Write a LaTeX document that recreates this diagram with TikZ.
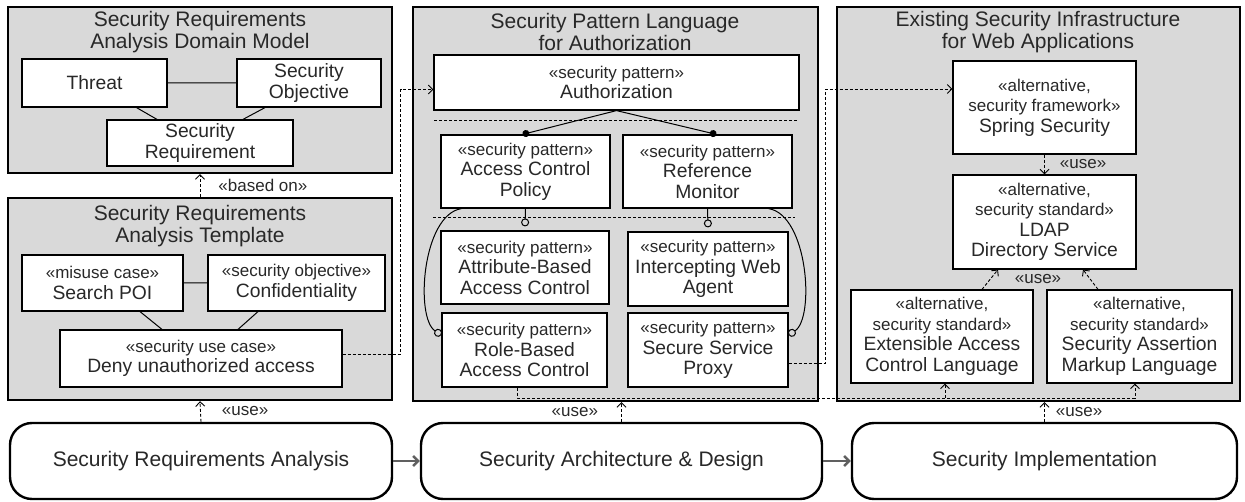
\documentclass[tikz,border=0pt]{standalone}
\usepackage{fontspec}
\setmainfont{Liberation Sans}
\usetikzlibrary{arrows.meta}
\definecolor{panelgray}{RGB}{217,217,217}
\definecolor{txt}{RGB}{40,40,40}
\newcommand{\st}{\fontsize{17}{20.5}\selectfont}
\tikzstyle{panel}=[draw=black,fill=panelgray,line width=2.4pt,inner sep=0pt]
\tikzstyle{title}=[align=center,text=txt,inner sep=0pt,font=\fontsize{21}{22.5}\selectfont]
\tikzstyle{box}=[draw=black,fill=white,line width=1.2pt,align=center,inner sep=0pt,text=txt,font=\fontsize{19.3}{20.5}\selectfont]
\tikzstyle{phase}=[draw=black,fill=white,rounded corners=22pt,line width=2.4pt,inner sep=0pt,text=txt,font=\fontsize{21}{24}\selectfont]
\tikzstyle{lbl}=[inner sep=1pt,text=txt,font=\st]
\tikzstyle{assoc}=[line width=1pt]
\tikzstyle{sep}=[line width=0.9pt,dash pattern=on 3pt off 2pt]
\tikzstyle{dep}=[line width=0.9pt,dash pattern=on 3pt off 2pt,-{Straight Barb[length=4.5pt,width=9pt]}]
\tikzstyle{flow}=[line width=2.5pt,draw=gray!75!black,-{Straight Barb[length=5pt,width=10pt]}]

\begin{document}
\begin{tikzpicture}[x=1pt, y=-1pt, style=thick]
	\useasboundingbox (0,0) rectangle (1245,502);

	% panels
	\node[panel,minimum width=384pt,minimum height=166pt] (p1) at (200,90) {};
	\node[panel,minimum width=384pt,minimum height=202pt] (p2) at (200,299) {};
	\node[panel,minimum width=405pt,minimum height=394pt] (p3) at (615.5,204) {};
	\node[panel,minimum width=403pt,minimum height=394pt] (p4) at (1038.5,204) {};
	\node[title] (t1) at (200,32) {Security Requirements\\Analysis Domain Model};
	\node[title] (t2) at (200,226) {Security Requirements\\Analysis Template};
	\node[title] (t3) at (615,32) {Security Pattern Language\\for Authorization};
	\node[title] (t4) at (1038,32) {Existing Security Infrastructure\\for Web Applications};

	% domain model
	\node[box,minimum width=145pt,minimum height=48pt] (threat) at (94.5,83) {Threat};
	\node[box,minimum width=144pt,minimum height=48pt] (obj) at (309,83) {Security\\Objective};
	\node[box,minimum width=186pt,minimum height=46pt] (req) at (200,143) {Security\\Requirement};
	\draw[assoc] (threat) -- (obj)
		([xshift=42pt]threat.south) -- ([xshift=-43pt]req.north)
		([xshift=-44pt]obj.south) -- ([xshift=43pt]req.north);

	% template
	\node[box,minimum width=161pt,minimum height=56pt] (misuse) at (102.5,283) {{\st «misuse case»}\\Search POI};
	\node[box,minimum width=177pt,minimum height=56pt] (conf) at (296.5,283) {{\st «security objective»}\\Confidentiality};
	\node[box,minimum width=282pt,minimum height=57pt] (usecase) at (201,358.5) {{\st «security use case»}\\Deny unauthorized access};
	\draw[assoc] (misuse) -- (conf)
		([xshift=37.5pt]misuse.south) -- ([xshift=-39pt]usecase.north)
		([xshift=-38.5pt]conf.south) -- ([xshift=37pt]usecase.north);
	\draw[dep] (p2.north) -- node[lbl,right=17pt] (lbased) {«based on»} (p1.south);

	% pattern language
	\node[box,minimum width=365pt,minimum height=55pt] (authz) at (616.5,82.5) {{\st «security pattern»}\\Authorization};
	\node[box,minimum width=169pt,minimum height=73pt] (acp) at (525.5,171.5) {{\st «security pattern»}\\Access Control\\Policy};
	\node[box,minimum width=169pt,minimum height=73pt] (refmon) at (707.5,171.5) {{\st «security pattern»}\\Reference\\Monitor};
	\node[box,minimum width=168pt,minimum height=73pt] (abac) at (525,267.5) {{\st «security pattern»}\\Attribute-Based\\Access Control};
	\node[box,minimum width=160pt,minimum height=74pt] (iwa) at (708,269) {{\st «security pattern»}\\Intercepting Web\\Agent};
	\node[box,minimum width=165pt,minimum height=74pt] (rbac) at (524.5,350) {{\st «security pattern»}\\Role-Based\\Access Control};
	\node[box,minimum width=160pt,minimum height=74pt] (ssp) at (708,350) {{\st «security pattern»}\\Secure Service\\Proxy};
	\draw[sep] (434,120) -- (797,120) (433,217) -- (795,217);
	\draw[assoc,-{Circle[length=7pt]}] (authz.south) -- ([xshift=-3pt]acp.north);
	\draw[assoc,-{Circle[length=7pt]}] (authz.south) -- ([xshift=9pt]refmon.north);
	\draw[assoc,-{Circle[open,length=8pt]}] (acp.south) -- ([yshift=4pt]abac.north);
	\draw[assoc,-{Circle[open,length=8pt]}] (refmon.south) -- ([yshift=4pt]iwa.north);
	\draw[assoc,-{Circle[open,length=8pt]}] ([xshift=21pt]acp.south west)
		.. controls (422,215) and (415,318) .. ([yshift=15pt]rbac.west);
	\draw[assoc,-{Circle[open,length=8pt]}] ([xshift=-24pt]refmon.south east)
		.. controls (808,215) and (815,318) .. ([yshift=15pt]ssp.east);
	\draw[dep] ([yshift=4.5pt]usecase.east) -- ++(58,0) |- ([yshift=-7pt]authz.west);

	% infrastructure
	\node[box,minimum width=183pt,minimum height=93pt] (spring) at (1044.5,107.5) {{\st «alternative,}\\{\st security framework»}\\Spring Security};
	\node[box,minimum width=183pt,minimum height=94pt] (ldap) at (1044.5,222) {{\st «alternative,}\\{\st security standard»}\\LDAP\\Directory Service};
	\node[box,minimum width=182pt,minimum height=93pt] (xacml) at (942,336.5) {{\st «alternative,}\\{\st security standard»}\\Extensible Access\\Control Language};
	\node[box,minimum width=185pt,minimum height=93pt] (saml) at (1139.5,336.5) {{\st «alternative,}\\{\st security standard»}\\Security Assertion\\Markup Language};
	\draw[dep] (spring) -- node[lbl,right=14pt] (luse1) {«use»} (ldap);
	\draw[dep] ([xshift=40pt]xacml.north) -- ([xshift=-46.5pt]ldap.south);
	\draw[dep] ([xshift=-41.5pt]saml.north) -- ([xshift=38.5pt]ldap.south);
	\node[lbl] (luse2) at (1038,279) {«use»};
	\draw[dep] ([yshift=-13pt]ssp.east) -- ++(37,0) |- ([yshift=18.5pt]spring.west);
	\coordinate (bus) at (517.5,398);
	\coordinate (xa) at ([xshift=3pt]xacml.south);
	\draw[dep] ([xshift=-7pt]rbac.south) -- (bus) -| ([xshift=-4.5pt]saml.south);
	\draw[dep] (xa |- bus) -- (xa);

	% phases
	\node[phase,minimum width=382pt,minimum height=76pt] (sra) at (201,461) {Security Requirements Analysis};
	\node[phase,minimum width=401pt,minimum height=76pt] (sad) at (621.5,461) {Security Architecture \& Design};
	\node[phase,minimum width=385pt,minimum height=76pt] (simp) at (1044.5,461) {Security Implementation};
	\draw[flow] (sra) -- (sad);
	\draw[flow] (sad) -- (simp);
	\draw[dep] (sra.north) -- node[lbl,right=20pt] (luse3) {«use»} (p2.south);
	\draw[dep] (sad.north) -- node[lbl,left=22pt] (luse4) {«use»} (sad.north |- p3.south);
	\draw[dep] (simp.north) -- node[lbl,right=10pt] (luse5) {«use»} (simp.north |- p4.south);
\end{tikzpicture}
\end{document}
